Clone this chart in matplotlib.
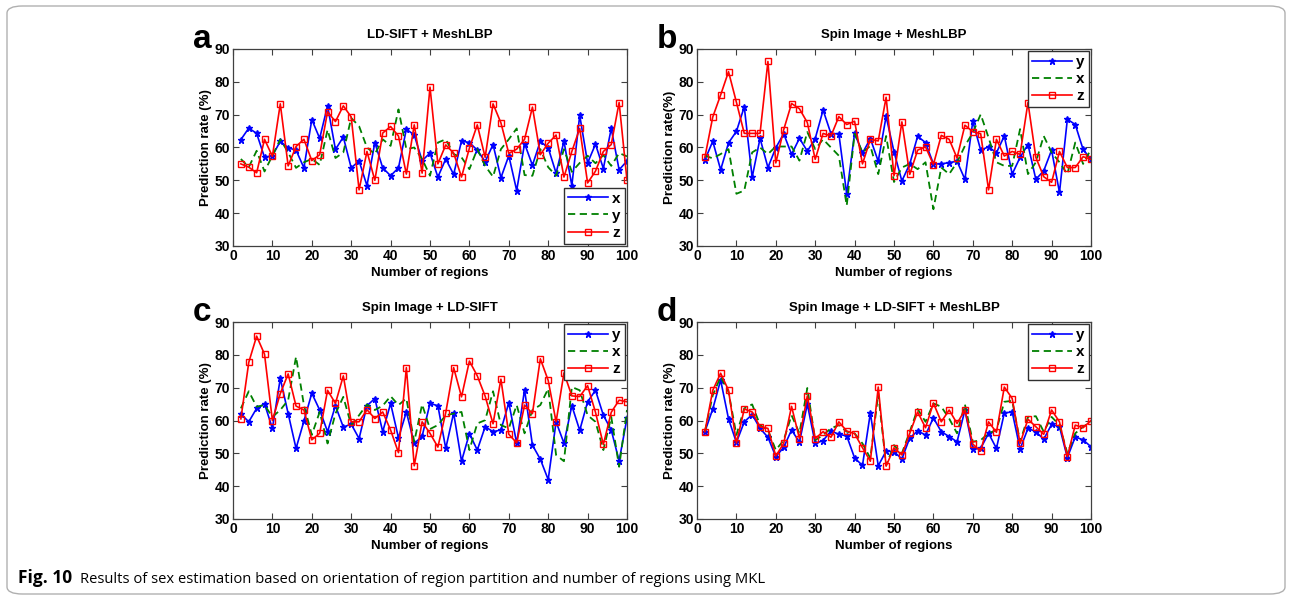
import numpy as np
import matplotlib
matplotlib.use('Agg')
from matplotlib import pyplot as plt
from matplotlib.patches import FancyBboxPatch

plt.rcParams['font.family'] = ['Liberation Sans', 'DejaVu Sans']

regions = list(range(2, 101, 2))

# panel a : LD-SIFT + MeshLBP  (blue = x, green = y)
a_blue = [62.4, 65.9, 64.3, 57.0, 57.5, 61.9, 59.9, 59.2, 53.8, 68.5,
          62.8, 72.7, 59.4, 63.2, 53.8, 55.9, 48.4, 61.5, 53.8, 51.4,
          53.8, 65.6, 63.8, 56.0, 58.3, 51.0, 56.5, 51.8, 62.0, 61.5,
          59.2, 55.7, 60.9, 50.8, 57.5, 46.9, 61.2, 54.6, 61.9, 59.9,
          52.2, 61.9, 48.4, 69.8, 55.3, 61.0, 53.6, 65.8, 53.2, 55.9]
a_green = [56.5, 54.0, 59.0, 52.7, 57.5, 62.5, 58.5, 53.8, 55.5, 56.5,
           54.7, 65.4, 56.8, 58.5, 69.0, 66.5, 60.0, 58.0, 62.5, 60.5,
           71.6, 59.5, 60.0, 56.5, 51.4, 61.5, 62.5, 58.0, 57.0, 53.4,
           59.5, 54.4, 51.1, 59.5, 62.5, 65.8, 51.6, 51.4, 59.5, 54.0,
           51.4, 59.5, 52.6, 55.3, 57.5, 55.2, 57.7, 54.4, 58.3, 57.3]
a_red = [55.0, 54.0, 52.3, 62.5, 57.3, 73.3, 54.4, 60.3, 62.5, 56.0,
         57.8, 70.9, 67.9, 72.7, 69.3, 47.1, 58.8, 50.0, 64.4, 66.4,
         63.5, 51.9, 66.9, 52.2, 78.4, 55.0, 60.8, 58.3, 51.0, 59.8,
         66.9, 57.0, 73.3, 67.5, 58.2, 59.5, 62.5, 72.3, 57.8, 61.3,
         63.8, 51.0, 58.8, 65.8, 49.2, 52.8, 58.8, 60.9, 73.7, 50.0]

# panel b : Spin Image + MeshLBP  (blue = y, green = x)
b_blue = [56.2, 61.9, 53.2, 61.4, 64.9, 72.4, 50.9, 62.8, 53.9, 59.9,
          64.2, 57.9, 62.8, 58.9, 62.7, 71.4, 64.2, 64.2, 45.8, 64.4,
          58.3, 62.7, 55.8, 69.5, 58.7, 49.8, 55.0, 63.4, 61.5, 55.0,
          55.0, 55.4, 55.8, 50.3, 68.0, 59.2, 60.2, 58.4, 63.5, 51.9,
          57.0, 60.9, 50.3, 52.9, 59.2, 46.3, 68.6, 67.0, 59.4, 56.4]
b_green = [57.5, 56.7, 58.0, 59.5, 45.9, 46.9, 58.5, 60.0, 58.0, 60.3,
           60.3, 60.3, 56.0, 64.7, 59.5, 62.5, 60.0, 57.5, 42.3, 64.2,
           58.5, 60.5, 51.9, 63.5, 49.5, 53.9, 55.0, 53.4, 55.5, 41.2,
           53.9, 51.9, 55.5, 60.5, 64.5, 70.1, 63.0, 55.5, 54.4, 54.4,
           65.6, 51.9, 55.5, 63.5, 58.5, 55.5, 51.9, 61.5, 55.0, 59.5]
b_red = [57.0, 69.3, 76.0, 83.1, 73.8, 64.3, 64.3, 64.3, 86.2, 55.3,
         65.4, 73.4, 71.8, 67.6, 56.4, 64.3, 63.5, 69.4, 67.0, 68.0,
         55.0, 62.5, 62.0, 75.3, 51.4, 67.8, 51.8, 59.2, 60.2, 54.8,
         63.7, 62.5, 56.8, 66.8, 64.8, 64.2, 47.1, 62.5, 57.4, 58.8,
         57.9, 73.7, 57.0, 51.1, 49.4, 58.8, 53.9, 53.9, 57.2, 56.4]

# panel c : Spin Image + LD-SIFT
c_blue = [62.0, 59.6, 63.7, 65.1, 57.6, 72.8, 62.1, 51.5, 59.8, 68.3,
          63.2, 56.6, 64.5, 58.0, 58.9, 54.5, 64.5, 66.7, 56.6, 65.2,
          54.7, 62.6, 53.0, 55.2, 65.2, 64.5, 51.5, 62.3, 47.6, 56.0,
          51.0, 58.1, 56.6, 57.1, 65.4, 53.1, 69.4, 52.5, 48.2, 42.0,
          59.6, 53.1, 64.5, 57.0, 65.7, 69.2, 61.6, 57.1, 47.7, 60.7]
c_green = [63.7, 68.9, 64.2, 64.7, 61.1, 63.2, 66.2, 79.4, 64.7, 55.6,
           62.6, 53.0, 62.1, 67.2, 58.6, 61.6, 64.9, 63.2, 64.5, 67.4,
           64.7, 66.7, 53.5, 64.9, 57.4, 58.6, 61.6, 62.1, 62.6, 51.0,
           59.1, 60.1, 68.9, 58.6, 57.6, 64.7, 56.1, 63.2, 64.7, 69.7,
           49.5, 47.6, 70.2, 69.2, 61.6, 59.6, 51.0, 61.1, 45.9, 63.2]
c_red = [60.5, 77.7, 85.7, 80.2, 60.0, 68.2, 74.2, 64.4, 63.2, 54.1,
         56.1, 69.2, 65.2, 73.6, 59.6, 59.6, 63.3, 60.6, 62.6, 57.1,
         50.2, 76.1, 46.2, 59.6, 56.1, 51.9, 62.4, 76.1, 67.2, 78.1,
         73.6, 67.4, 59.0, 72.6, 55.8, 53.2, 64.7, 62.1, 78.8, 72.2,
         59.6, 74.5, 67.5, 67.3, 70.6, 62.5, 52.7, 62.5, 66.2, 65.7]

# panel d : Spin Image + LD-SIFT + MeshLBP
d_blue = [56.6, 63.5, 72.3, 60.5, 53.3, 59.6, 61.8, 57.6, 54.9, 49.0,
          51.8, 57.1, 53.4, 65.0, 53.0, 53.9, 56.8, 55.8, 55.3, 48.6,
          46.3, 62.3, 46.2, 50.7, 50.5, 48.3, 54.7, 56.8, 55.6, 60.8,
          56.6, 55.1, 53.5, 63.2, 51.3, 51.5, 56.1, 51.5, 62.3, 62.6,
          51.3, 57.6, 56.6, 54.3, 58.8, 58.1, 48.7, 55.0, 54.1, 52.0]
d_green = [56.6, 67.7, 73.3, 68.7, 55.6, 63.7, 64.9, 58.6, 57.1, 51.0,
           54.0, 61.6, 56.1, 69.9, 54.0, 55.6, 57.6, 58.6, 56.6, 56.1,
           53.0, 48.5, 68.2, 46.4, 52.5, 50.0, 56.6, 63.5, 59.6, 65.2,
           64.2, 60.6, 56.1, 64.9, 53.5, 54.0, 56.1, 57.1, 65.7, 66.0,
           53.5, 61.1, 61.3, 56.6, 61.1, 58.6, 50.0, 56.1, 58.1, 59.6]
d_red = [56.6, 69.2, 74.4, 69.2, 53.1, 63.5, 62.6, 58.1, 57.6, 49.2,
         53.0, 64.3, 54.5, 67.5, 54.5, 56.6, 54.9, 59.6, 56.8, 56.0,
         51.7, 47.6, 70.2, 46.1, 51.7, 49.5, 56.1, 62.6, 57.8, 65.3,
         59.6, 63.2, 59.1, 63.2, 52.8, 50.7, 59.6, 56.4, 70.2, 66.7,
         53.0, 60.4, 58.1, 55.8, 63.2, 59.6, 49.0, 58.6, 57.8, 60.0]

panels = [
    # letter, title, ylabel, series (blue, green, red), legend labels, legend loc
    ('a', 'LD-SIFT + MeshLBP', 'Prediction rate (%)',
     (a_blue, a_green, a_red), ('x', 'y', 'z'), 'lower right'),
    ('b', 'Spin Image + MeshLBP', 'Prediction rate(%)',
     (b_blue, b_green, b_red), ('y', 'x', 'z'), 'upper right'),
    ('c', 'Spin Image + LD-SIFT', 'Prediction rate (%)',
     (c_blue, c_green, c_red), ('y', 'x', 'z'), 'upper right'),
    ('d', 'Spin Image + LD-SIFT + MeshLBP', 'Prediction rate (%)',
     (d_blue, d_green, d_red), ('y', 'x', 'z'), 'upper right'),
]

W, H = 1292, 600
fig = plt.figure(figsize=(W / 100, H / 100), dpi=100)
fig.patch.set_facecolor('white')

# rounded frame around the whole figure
frame = FancyBboxPatch((7 / W, 6 / H), 1 - 14 / W, 1 - 12 / H,
                       boxstyle='round,pad=0,rounding_size=0.012',
                       transform=fig.transFigure, fill=False,
                       edgecolor='#b0b0b0', linewidth=1.0)
fig.patches.append(frame)

# axes boxes in pixels: left, top, width, height
boxes = [(233, 49, 394, 197), (697, 49, 394, 197),
         (233, 322, 394, 197), (697, 322, 394, 197)]

spine_col = '#404040'
for (letter, title, ylab, (yb, yg, yr), labs, loc), (l, t, w, h) in zip(panels, boxes):
    ax = fig.add_axes([l / W, 1 - (t + h) / H, w / W, h / H])
    lb, = ax.plot(regions, yb, '-', color='#0000ff', lw=1.2,
                  marker='*', ms=4.5, mec='#0000ff', mfc='#0000ff')
    lg, = ax.plot(regions, yg, '--', color='#008000', lw=1.3, dashes=(4, 2.5))
    lr, = ax.plot(regions, yr, '-', color='#ff0000', lw=1.2,
                  marker='s', ms=5, mfc='none', mec='#ff0000', mew=1.0)
    ax.set_xlim(0, 100)
    ax.set_ylim(30, 90)
    ax.set_xticks(range(0, 101, 10))
    ax.set_yticks(range(30, 91, 10))
    ax.tick_params(direction='in', top=True, right=True, length=4,
                   width=0.8, color=spine_col, labelsize=10, pad=2)
    for lab in ax.get_xticklabels() + ax.get_yticklabels():
        lab.set_fontweight('bold')
    for s in ax.spines.values():
        s.set_color(spine_col)
        s.set_linewidth(0.9)
    ax.set_title(title, fontsize=9.5, fontweight='bold', pad=8)
    ax.set_xlabel('Number of regions', fontsize=9.5, fontweight='bold', labelpad=3)
    ax.set_ylabel(ylab, fontsize=9.5, fontweight='bold', labelpad=2)
    leg = ax.legend([lb, lg, lr], labs, loc=loc,
                    prop={'weight': 'bold', 'size': 11},
                    handlelength=2.6, handletextpad=0.3, labelspacing=0.2,
                    borderpad=0.25, borderaxespad=0.15, fancybox=False,
                    framealpha=1)
    leg.get_frame().set_edgecolor('#303030')
    leg.get_frame().set_linewidth(1.0)
    fig.text((l - 40) / W, 1 - (t - 1) / H, letter, fontsize=24,
             fontweight='bold', ha='left', va='baseline')

fig.text(18 / W, 1 - 583 / H, 'Fig. 10', fontsize=12.5, fontweight='bold',
         ha='left', va='baseline', family='Open Sans')
fig.text(80 / W, 1 - 583 / H,
         'Results of sex estimation based on orientation of region partition '
         'and number of regions using MKL',
         fontsize=10.6, ha='left', va='baseline', family='Open Sans')

fig.savefig('out.png', dpi=100)
